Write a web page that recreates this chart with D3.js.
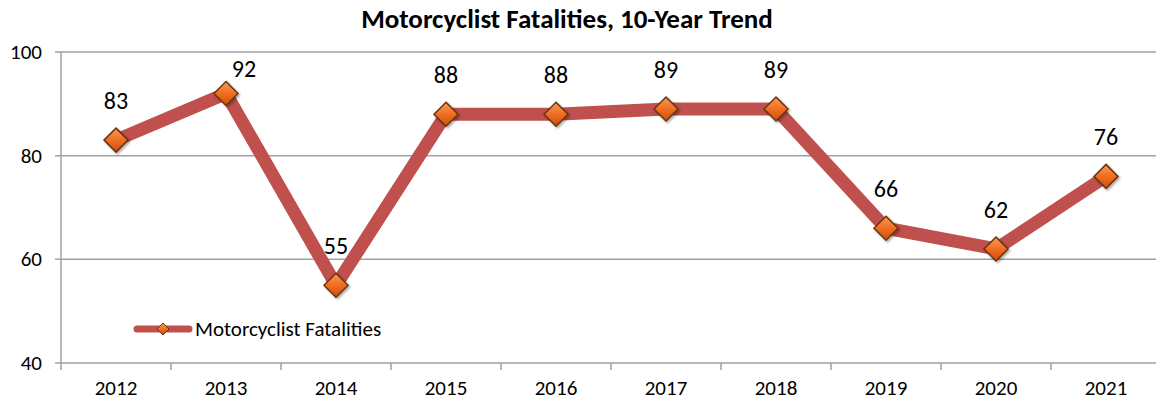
<!DOCTYPE html>
<html><head><meta charset="utf-8">
<script src="https://cdn.jsdelivr.net/npm/d3@7"></script>
<style>body{margin:0;background:#fff}svg{display:block}</style>
</head><body>
<svg id="c" width="1156" height="400"></svg>
<script>
const categories = ["2012","2013","2014","2015","2016","2017","2018","2019","2020","2021"];
const values = [83, 92, 55, 88, 88, 89, 89, 66, 62, 76];
const yTicks = [40, 60, 80, 100];
const seriesName = "Motorcyclist Fatalities";
const title = "Motorcyclist Fatalities, 10-Year Trend";

(function(){
const svg = d3.select("#c");
const font = "Carlito, Calibri, 'Open Sans', sans-serif";
const pL = 61, pR = 1161, pT = 52, pB = 363;

const x = d3.scaleBand().domain(categories).range([pL, pR]);
const y = d3.scaleLinear().domain([40, 100]).range([pB, pT]);

svg.append("g").selectAll("line").data(yTicks).join("line")
  .attr("x1", pL - 6).attr("x2", 1156)
  .attr("y1", d => y(d)).attr("y2", d => y(d))
  .attr("stroke", "#a0a0a0").attr("stroke-width", 1.5);

svg.append("g").selectAll("text").data(yTicks).join("text")
  .attr("x", 42).attr("y", d => y(d)).attr("dy", "0.33em")
  .attr("text-anchor", "end").attr("font-family", font).attr("font-size", 21)
  .attr("fill", "#000").text(d => d);

svg.append("line").attr("x1", pL).attr("x2", pL).attr("y1", pT).attr("y2", pB)
  .attr("stroke", "#a0a0a0").attr("stroke-width", 1.5);

const xa = d3.axisBottom(x).tickSize(0).tickPadding(0);
const gx = svg.append("g").attr("transform", `translate(0,${pB})`).call(xa);
gx.select(".domain").remove();
gx.selectAll("text").attr("font-family", font).attr("font-size", 21).attr("fill", "#000")
  .attr("dy", null).attr("y", 32);
const bounds = categories.map(c => x(c)).concat([x(categories[categories.length-1]) + x.bandwidth()]);
svg.append("g").selectAll("line").data(bounds).join("line")
  .attr("x1", d => d).attr("x2", d => d).attr("y1", pB).attr("y2", pB + 7)
  .attr("stroke", "#a0a0a0").attr("stroke-width", 1.5);

const cx = d => x(d) + x.bandwidth() / 2;
const data = categories.map((c, i) => ({c, v: values[i]}));

svg.append("path").datum(data)
  .attr("d", d3.line().x(d => cx(d.c)).y(d => y(d.v)))
  .attr("fill", "none").attr("stroke", "#C0504D").attr("stroke-width", 13)
  .attr("stroke-linejoin", "miter");

const defs = svg.append("defs");
const grad = defs.append("linearGradient").attr("id", "mg").attr("x1", 0).attr("y1", 0).attr("x2", 0).attr("y2", 1);
grad.append("stop").attr("offset", "0%").attr("stop-color", "#F99A55");
grad.append("stop").attr("offset", "55%").attr("stop-color", "#EE6A1E");
grad.append("stop").attr("offset", "100%").attr("stop-color", "#C9500F");
const flt = defs.append("filter").attr("id", "sh").attr("x", "-50%").attr("y", "-50%").attr("width", "200%").attr("height", "200%");
flt.append("feDropShadow").attr("dx", 1.5).attr("dy", 1.5).attr("stdDeviation", 1.2)
  .attr("flood-color", "#000").attr("flood-opacity", 0.35);

const diamond = (s) => `M0,${-s}L${s},0L0,${s}L${-s},0Z`;
svg.append("g").selectAll("path").data(data).join("path")
  .attr("transform", d => `translate(${cx(d.c)},${y(d.v)})`)
  .attr("d", diamond(12))
  .attr("fill", "url(#mg)").attr("stroke", "#6B3410").attr("stroke-width", 1.5)
  .attr("filter", "url(#sh)");

svg.append("g").selectAll("text").data(data).join("text")
  .attr("x", (d, i) => cx(d.c) + (i === 1 ? 18 : 0))
  .attr("y", (d, i) => y(d.v) - (i === 1 ? 16 : 31))
  .attr("text-anchor", "middle").attr("font-family", font).attr("font-size", 24)
  .attr("fill", "#000").text(d => d.v);

svg.append("text").attr("x", 567).attr("y", 28)
  .attr("text-anchor", "middle").attr("font-family", font).attr("font-size", 27)
  .attr("font-weight", "bold").attr("fill", "#000").text(title);

const lg = svg.append("g");
lg.append("line").attr("x1", 137).attr("x2", 189).attr("y1", 329).attr("y2", 329)
  .attr("stroke", "#C0504D").attr("stroke-width", 7).attr("stroke-linecap", "round");
lg.append("path").attr("transform", "translate(163,329)").attr("d", diamond(6))
  .attr("fill", "url(#mg)").attr("stroke", "#6B3410").attr("stroke-width", 1);
lg.append("text").attr("x", 195).attr("y", 329).attr("dy", "0.33em")
  .attr("font-family", font).attr("font-size", 21).attr("fill", "#000").text(seriesName);
})();
</script>
</body></html>
